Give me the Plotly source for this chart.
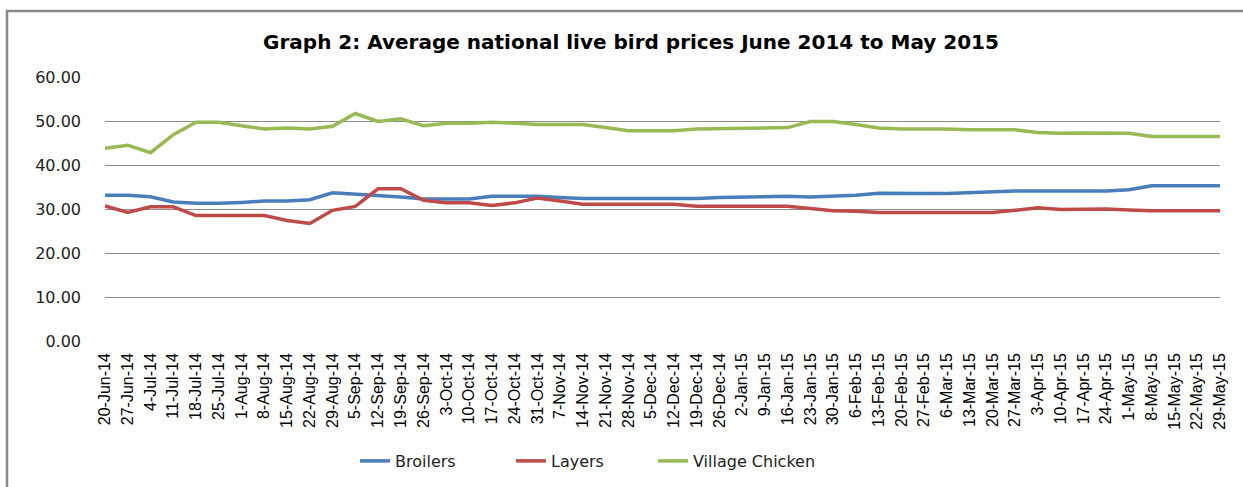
import plotly.graph_objects as go

dates = ["20-Jun-14","27-Jun-14","4-Jul-14","11-Jul-14","18-Jul-14","25-Jul-14","1-Aug-14","8-Aug-14",
         "15-Aug-14","22-Aug-14","29-Aug-14","5-Sep-14","12-Sep-14","19-Sep-14","26-Sep-14","3-Oct-14",
         "10-Oct-14","17-Oct-14","24-Oct-14","31-Oct-14","7-Nov-14","14-Nov-14","21-Nov-14","28-Nov-14",
         "5-Dec-14","12-Dec-14","19-Dec-14","26-Dec-14","2-Jan-15","9-Jan-15","16-Jan-15","23-Jan-15",
         "30-Jan-15","6-Feb-15","13-Feb-15","20-Feb-15","27-Feb-15","6-Mar-15","13-Mar-15","20-Mar-15",
         "27-Mar-15","3-Apr-15","10-Apr-15","17-Apr-15","24-Apr-15","1-May-15","8-May-15","15-May-15",
         "22-May-15","29-May-15"]

broilers = [33.1,33.1,32.8,31.6,31.3,31.3,31.5,31.8,31.8,32.1,33.7,33.4,33.1,32.7,32.3,32.3,32.3,32.9,
            32.9,32.9,32.6,32.4,32.4,32.4,32.4,32.4,32.4,32.6,32.7,32.9,32.9,32.7,32.9,33.1,33.6,
            33.5,33.5,33.5,33.7,33.9,34.1,34.1,34.1,34.1,34.1,34.4,35.3,35.3,35.3,35.3]

layers = [30.7,29.2,30.5,30.5,28.5,28.5,28.5,28.5,27.4,26.7,29.7,30.6,34.6,34.6,32.0,31.4,31.4,30.8,
          31.4,32.5,31.8,31.1,31.1,31.1,31.1,31.1,30.6,30.6,30.6,30.6,30.6,30.1,29.6,29.5,29.2,
          29.2,29.2,29.2,29.2,29.2,29.7,30.3,29.9,29.9,30.0,29.8,29.6,29.6,29.6,29.6]

village = [43.8,44.5,42.8,46.9,49.7,49.7,48.9,48.2,48.4,48.2,48.8,51.7,49.9,50.5,48.9,49.5,49.5,49.7,
           49.5,49.2,49.2,49.2,48.5,47.8,47.8,47.8,48.2,48.3,48.4,48.5,48.5,49.9,49.9,49.2,48.4,
           48.2,48.2,48.2,48.0,48.0,48.0,47.4,47.2,47.3,47.3,47.2,46.5,46.5,46.5,46.5]

series_names = ["Broilers", "Layers", "Village Chicken"]
series_colors = ["#4A7EBB", "#BE4B48", "#98B954"]
y_ticks = [0, 10, 20, 30, 40, 50, 60]

W, H = 1243, 487
L, R, T, B = 105, 23, 77, 146
pw, ph = W - L - R, H - T - B

legend_ids = ["legend", "legend2", "legend3"]
legend_left_px = [355, 511, 653]

fig = go.Figure()
for name, vals, col, lid in zip(series_names, [broilers, layers, village], series_colors, legend_ids):
    fig.add_trace(go.Scatter(x=dates, y=vals, mode="lines", name=name, legend=lid,
                             line=dict(color=col, width=3.5)))

legend_common = dict(orientation="h", xanchor="left", y=(T + ph - 461) / ph, yanchor="middle",
                     font=dict(size=16, color="#222222", family="DejaVu Sans"),
                     bgcolor="rgba(0,0,0,0)")
legends = {lid: dict(x=(px - L) / pw, **legend_common) for lid, px in zip(legend_ids, legend_left_px)}

fig.update_layout(
    width=W, height=H,
    margin=dict(l=L, r=R, t=T, b=B, autoexpand=False),
    paper_bgcolor="white", plot_bgcolor="white",
    font=dict(family="DejaVu Sans", color="#222222"),
    title=dict(text="<b>Graph 2: Average national live bird prices June 2014 to May 2015</b>",
               x=631 / W, xanchor="center", y=1 - 42 / H, yanchor="middle",
               font=dict(size=20, color="#000000", family="DejaVu Sans")),
    showlegend=True,
    xaxis=dict(type="category", range=[0, len(dates) - 1], tickangle=-90, automargin=False,
               showgrid=False, showline=False, zeroline=False, ticks="",
               tickfont=dict(size=16, family="Liberation Sans Narrow, Liberation Sans", color="#000000"),
               ticklabelstandoff=8),
    yaxis=dict(range=[0, 60], tickvals=y_ticks, ticktext=[f"{v:.2f}" for v in y_ticks],
               automargin=False,
               showgrid=True, gridcolor="#8C8C8C", gridwidth=1, zeroline=False,
               showline=False, ticks="", ticklabelstandoff=23,
               tickfont=dict(size=16, family="DejaVu Sans", color="#222222")),
    shapes=[dict(type="path", xref="paper", yref="paper",
                 path=f"M {(7 - L) / pw},{(T + ph - 600) / ph} L {(7 - L) / pw},{(T + ph - 11) / ph} L {(1300 - L) / pw},{(T + ph - 11) / ph}",
                 line=dict(color="#8A8A8A", width=2.5))],
    **legends,
)

fig.write_html("out.html", config={"displayModeBar": False},
               post_script="document.body.style.margin='0';document.body.style.overflow='hidden';")
